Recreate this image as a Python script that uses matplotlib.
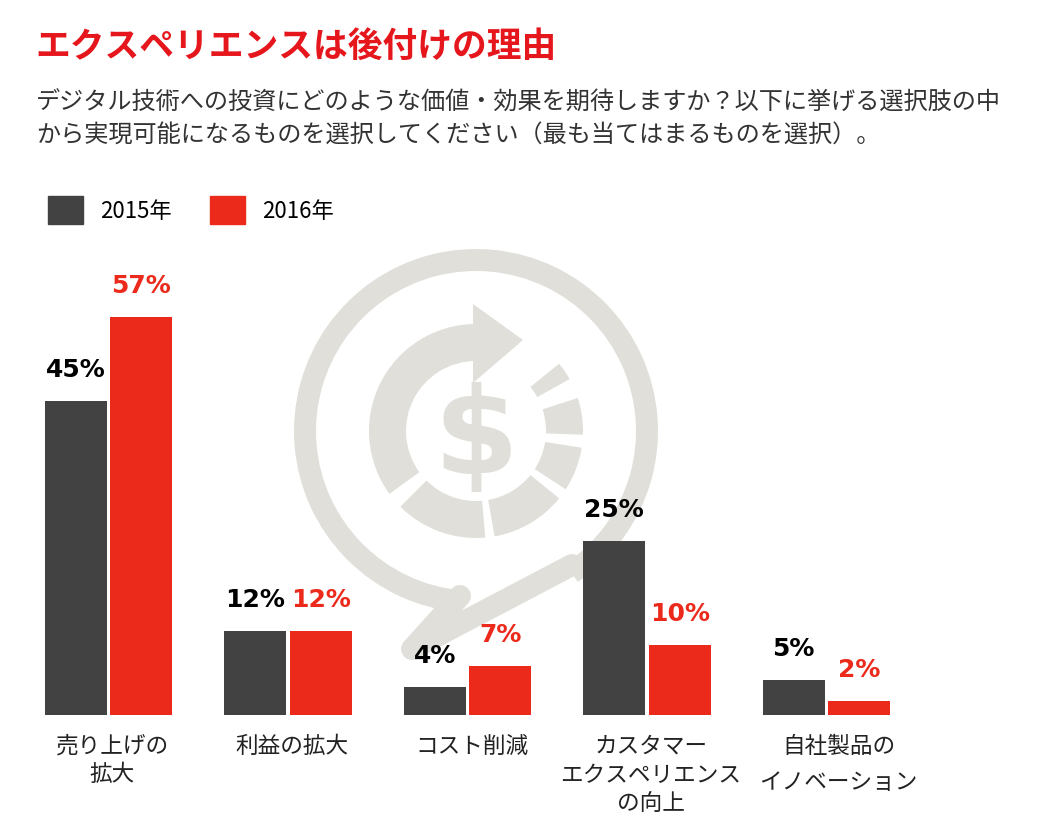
import numpy as np
import matplotlib
matplotlib.use("Agg")
import matplotlib.pyplot as plt
from matplotlib.patches import Wedge, Polygon, Patch

plt.rcParams['font.family'] = ['Noto Sans CJK JP', 'DejaVu Sans']

# データ
categories = ["売り上げの\n拡大", "利益の拡大", "コスト削減",
              "カスタマー\nエクスペリエンス\nの向上", "自社製品の\nイノベーション"]
v2015 = [45, 12, 4, 25, 5]
v2016 = [57, 12, 7, 10, 2]
series_names = ["2015年", "2016年"]

title = "エクスペリエンスは後付けの理由"
subtitle = ["デジタル技術への投資にどのような価値・効果を期待しますか？以下に挙げる選択肢の中",
            "から実現可能になるものを選択してください（最も当てはまるものを選択）。"]

DARK = "#424242"
RED = "#ec2a1c"
TITLE_RED = "#e5161c"
WM = "#e0dfd9"

W, H = 1041, 829
fig = plt.figure(figsize=(W / 100, H / 100), dpi=100)

# 背景のアイコン（透かし）
bg = fig.add_axes([0, 0, 1, 1])
bg.set_xlim(0, W)
bg.set_ylim(0, H)
bg.axis('off')

cx, cy = 476, H - 432
bg.add_patch(Wedge((cx, cy), 182, -56, 265, width=22, color=WM, lw=0))
tail = np.array([[460, 597], [412, 650], [572, 566]], dtype=float)
tail[:, 1] = H - tail[:, 1]
bg.plot(tail[:, 0], tail[:, 1], color=WM, lw=15.8, solid_capstyle='round',
        solid_joinstyle='round')
bg.add_patch(Wedge((cx, cy), 107, 90, 216, width=37, color=WM, lw=0))
head = np.array([[473, 305], [523, 341], [473, 384]], dtype=float)
head[:, 1] = H - head[:, 1]
bg.add_patch(Polygon(head, closed=True, color=WM, lw=0))
for t1, t2 in [(225, 275), (280, 321), (327, 351), (-2, 18), (29, 39)]:
    bg.add_patch(Wedge((cx, cy), 107, t1, t2, width=37, color=WM, lw=0))
bg.text(cx, H - 440, "$", fontsize=88, fontweight='bold', color=WM,
        ha='center', va='center', family='DejaVu Sans')

# タイトル・設問
fig.text(35 / W, 1 - 46 / H, title, fontsize=25, fontweight='bold',
         color=TITLE_RED, va='center', ha='left')
for k, line in enumerate(subtitle):
    fig.text(36 / W, 1 - (103 + 32 * k) / H, line, fontsize=17.4,
             color="#333333", va='center', ha='left')

# 棒グラフ
ax = fig.add_axes([18.75 / W, 113 / H, 897.5 / W, 418.8 / H])
ax.patch.set_alpha(0)
x = np.arange(len(categories))
bw = 0.345
off = 0.1825
ax.bar(x - off, v2015, width=bw, color=DARK, label=series_names[0])
ax.bar(x + off, v2016, width=bw, color=RED, label=series_names[1])
ax.set_xlim(-0.5, len(categories) - 0.5)
ax.set_ylim(0, 60)
ax.axis('off')

for xi, v in zip(x - off, v2015):
    ax.annotate(f"{v}%", (xi, v), xytext=(0, 23), textcoords='offset points',
                ha='center', va='center', fontsize=18, fontweight='bold',
                color="black", family='DejaVu Sans')
for xi, v in zip(x + off, v2016):
    ax.annotate(f"{v}%", (xi, v), xytext=(0, 23), textcoords='offset points',
                ha='center', va='center', fontsize=18, fontweight='bold',
                color=RED, family='DejaVu Sans')

for i, cat in enumerate(categories):
    gap = 37 if i == 4 else 29
    dx = 12 if i == 4 else 4
    for j, line in enumerate(cat.split("\n")):
        ax.annotate(line, (i, 0), xytext=(dx * 0.72, -(30 + j * gap) * 0.72),
                    textcoords='offset points', ha='center', va='center',
                    fontsize=16.3, color="#222222")

# 凡例
handles = [Patch(color=DARK), Patch(color=RED)]
fig.legend(handles, series_names, loc='center left',
           bbox_to_anchor=(48 / W, 1 - 211 / H), ncol=2, frameon=False,
           fontsize=16, handlelength=1.58, handleheight=1.58,
           handletextpad=0.77, columnspacing=1.7, borderpad=0, borderaxespad=0)

fig.savefig("out.png", dpi=100)
